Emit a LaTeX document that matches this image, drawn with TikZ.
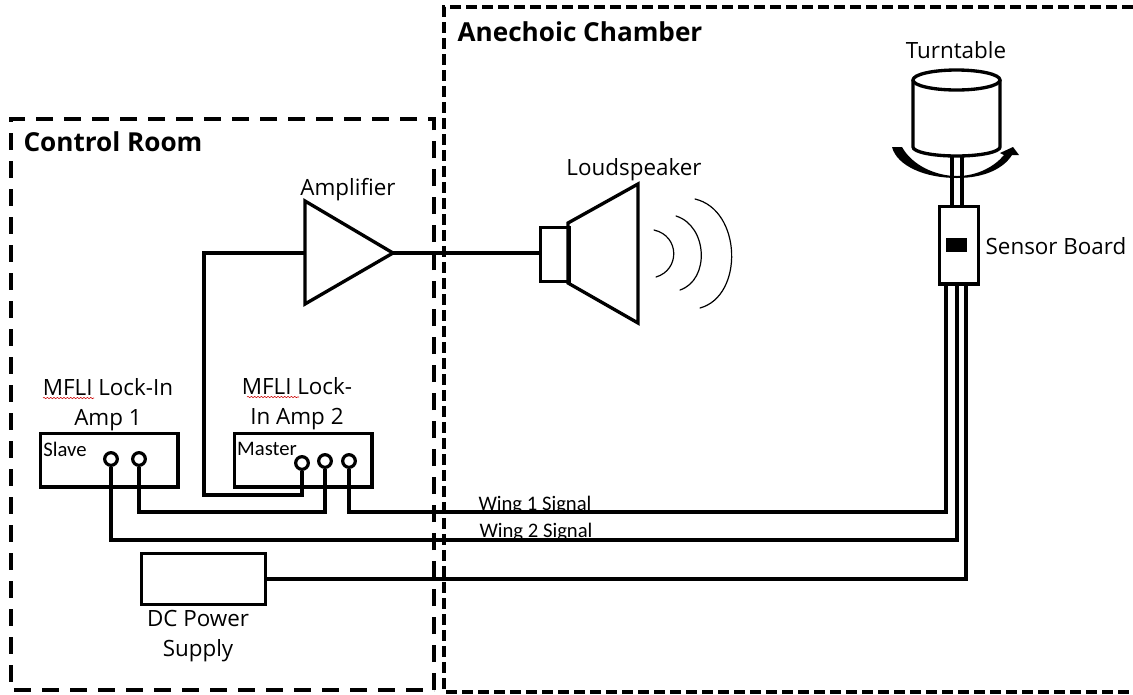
\documentclass[tikz,border=0pt]{standalone}
\usepackage{fontspec}
\setmainfont{Open Sans}
\newfontfamily\calfont{Carlito}
\usetikzlibrary{decorations.pathmorphing}

\begin{document}
\begin{tikzpicture}
    [x=0.75pt, y=-0.75pt, line width=2.5pt, line join=miter,
     every node/.style={font=\fontsize{16.8}{22.5}\selectfont, align=center, inner sep=0pt},
     roomlabel/.style={font=\fontsize{19.6}{22}\selectfont\bfseries},
     boxnode/.style={draw, anchor=north west},
     port/.style={draw, circle, fill=white, minimum size=9.5pt, line width=2.4pt},
     smalllabel/.style={font=\calfont\fontsize{15.5}{18}\selectfont},
     wave/.style={line width=0.9pt, line cap=round},
     controlroom/.style={line width=2.6pt, dash pattern=on 12.75pt off 8.25pt},
     chamberroom/.style={line width=2.4pt, dash pattern=on 8.25pt off 3.75pt},
     spell/.style={red!80!black, line width=0.4pt, decorate, decoration={snake, amplitude=0.5pt, segment length=2.5pt}}]
    \useasboundingbox (0,0) rectangle (1133,694);

    % rooms
    \draw[controlroom] (434,690) -- (434,119) -- (11,119) -- (11,690) -- (434,690);
    \draw[chamberroom] (1133,7) -- (444,7) -- (444,692) -- (1133,692);
    \node[roomlabel] (control) at (113,142) {Control Room};
    \node[roomlabel] (chamber) at (580,32) {Anechoic Chamber};

    % instruments
    \node[boxnode, minimum width=103pt, minimum height=40pt] (slave) at (39,432) {};
    \node[boxnode, minimum width=103pt, minimum height=40pt] (master) at (233,432) {};
    \node[boxnode, minimum width=93pt, minimum height=38pt] (supply) at (140,552) {};
    \node (amp1) at (108,405) {MFLI Lock-In\\Amp 1};
    \node (amp2) at (297,404) {MFLI Lock-\\In Amp 2};
    \node (dclabel) at (198,636) {DC Power\\Supply};
    \node[smalllabel] (slavelabel) at (65,449) {Slave};
    \node[smalllabel] (masterlabel) at (267,449) {Master};
    \draw[spell] (43,398) -- (94,398);
    \draw[spell] (247,397) -- (299,397);

    % ports
    \node[port] (s1) at (111,459) {};
    \node[port] (s2) at (139,459) {};
    \node[port] (m1) at (302,463) {};
    \node[port] (m2) at (325,461) {};
    \node[port] (m3) at (349,461) {};

    % amplifier
    \coordinate (ampin) at (305,253);
    \coordinate (ampout) at (393,253);
    \draw (305,201) -- (ampout) -- (305,304) -- cycle;
    \node (amplabel) at (348,190) {Amplifier};

    % loudspeaker
    \node[boxnode, minimum width=21.5pt, minimum height=40.5pt] (driver) at (538.5,226) {};
    \draw (568,223) -- (638,184) -- (638,323) -- (568,283) -- cycle;
    \node (speakerlabel) at (634,170) {Loudspeaker};
    \draw[wave] (654,230) .. controls (680,236) and (680,270) .. (656,277);
    \draw[wave] (676,216) .. controls (708,226) and (710,280) .. (680,290);
    \draw[wave] (695,199) .. controls (742,210) and (744,296) .. (700,308);

    % turntable
    \draw (913,80) -- (913,147) arc[start angle=180, end angle=0, x radius=43.5, y radius=9] -- (1000,80);
    \draw (956.5,80) ellipse[x radius=43.5, y radius=10];
    \fill (892,147) .. controls (897,166) and (925,178) .. (957,178)
        .. controls (985,178) and (1004,168) .. (1012,155) -- (1019,155) -- (1013,147) -- (1000,153) -- (1004,155)
        .. controls (995,166) and (978,176) .. (957,176)
        .. controls (935,176) and (912,165) .. (902,147) -- cycle;
    \node (tablelabel) at (956,50) {Turntable};
    \node[boxnode, minimum width=29pt, minimum height=58pt, fill=white] (board) at (938,205) {};
    \node[fill, minimum width=15.5pt, minimum height=10.5pt] (chip) at (956.5,245) {};
    \node (boardlabel) at (1056,246) {Sensor Board};
    \coordinate (axisa) at (952,156);
    \coordinate (axisb) at (962,156);
    \draw (axisa) -- (axisa |- board.north);
    \draw (axisb) -- (axisb |- board.north);

    % wires
    \coordinate (wa) at (946,283);
    \coordinate (wb) at (957,283);
    \coordinate (wc) at (966,283);
    \draw (ampout) -- (ampout -| driver.west);
    \draw (ampin) -- (204,253) -- (204,495) -| (m1.south);
    \draw (s2.south) |- (325,512) -- (m2.south);
    \draw (m3.south) |- (946,512) -- (wa);
    \draw (s1.south) |- (957,540) -- (wb);
    \draw (supply.east) -| (wc);

    % signal names sit on their wires
    \begin{scope}
        \clip (470,490) rectangle (600,511);
        \node[smalllabel] (wing1) at (535,505) {Wing 1 Signal};
    \end{scope}
    \begin{scope}
        \clip (470,518) rectangle (600,539);
        \node[smalllabel] (wing2) at (536,532) {Wing 2 Signal};
    \end{scope}
\end{tikzpicture}
\end{document}
